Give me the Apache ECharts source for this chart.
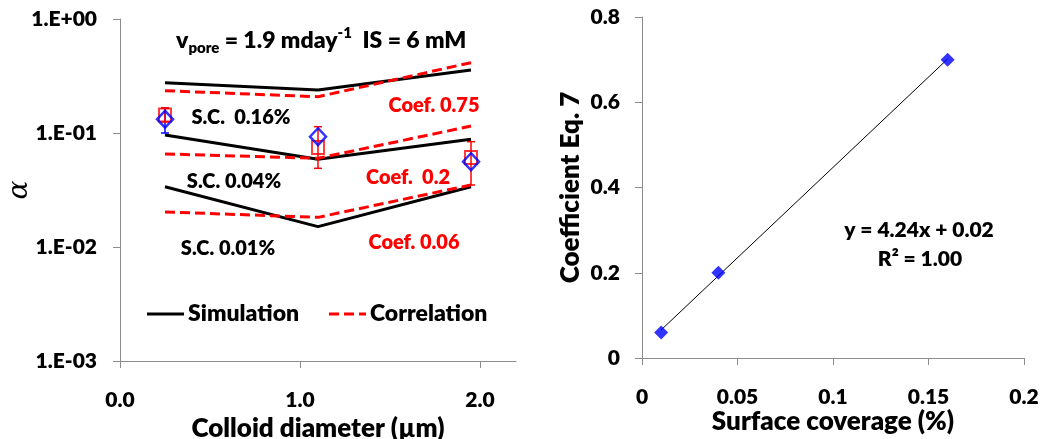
<!DOCTYPE html>
<html>
<head>
<meta charset="utf-8">
<script src="https://cdn.jsdelivr.net/npm/echarts@6/dist/echarts.min.js"></script>
<style>
  html, body { margin: 0; padding: 0; background: #ffffff; }
  #chart { width: 1041px; height: 439px; }
</style>
</head>
<body>
<div id="chart"></div>
<script>
// ---- Left panel: attachment efficiency vs colloid diameter ----
const diameters = [0.25, 1.1, 1.95];

// simulated alpha for three surface coverages
const simSC016 = [0.276, 0.238, 0.357];
const simSC004 = [0.096, 0.0588, 0.088];
const simSC001 = [0.0338, 0.0151, 0.0338];

// correlation (Eq. 7) with three coefficients
const corCoef075 = [0.235, 0.208, 0.414];
const corCoef02 = [0.0655, 0.060, 0.115];
const corCoef006 = [0.0203, 0.0182, 0.035];

// measured alpha, two data sets with error bars
const measuredDiamond = [0.132, 0.0928, 0.056];
const diamondErrLow = [0.100, null, null];
const diamondErrHigh = [0.166, null, null];
const measuredSquare = [0.144, 0.0746, 0.061];
const squareErrLow = [0.125, 0.049, 0.035];
const squareErrHigh = [0.166, 0.1136, 0.0839];

const diameterTicks = [0, 1, 2];

// ---- Right panel: fitted coefficient vs surface coverage ----
const coverage = [0.01, 0.04, 0.16];
const coefficient = [0.06, 0.2, 0.7];

const FONT = 'Lato';
const WEIGHT = 800;
const BLUE = '#0000ff';
const RED = '#ff0000';
const AXIS_GRAY = '#8c8c8c';

const pairs = (xs, ys) => xs.map((x, i) => [x, ys[i]]);
const errRows = (xs, lo, hi) => xs.map((x, i) => [x, lo[i], hi[i]]).filter(r => r[1] != null);

// least-squares trendline through the right-panel points
function linearFit(xs, ys) {
  const n = xs.length;
  const mx = xs.reduce((a, b) => a + b, 0) / n;
  const my = ys.reduce((a, b) => a + b, 0) / n;
  let sxy = 0, sxx = 0, syy = 0;
  for (let i = 0; i < n; i++) {
    sxy += (xs[i] - mx) * (ys[i] - my);
    sxx += (xs[i] - mx) ** 2;
    syy += (ys[i] - my) ** 2;
  }
  const slope = sxy / sxx;
  const intercept = my - slope * mx;
  return { slope, intercept, r2: (sxy * sxy) / (sxx * syy) };
}
const fit = linearFit(coverage, coefficient);
const fitX = [Math.min(...coverage), Math.max(...coverage)];
const fitLine = fitX.map(x => [x, fit.slope * x + fit.intercept]);

function errorBar(color, width) {
  return function (params, api) {
    const x = api.value(0);
    const lo = api.coord([x, api.value(1)]);
    const hi = api.coord([x, api.value(2)]);
    const cap = 4;
    const style = { stroke: color, lineWidth: width };
    return {
      type: 'group',
      children: [
        { type: 'line', shape: { x1: lo[0], y1: lo[1], x2: hi[0], y2: hi[1] }, style },
        { type: 'line', shape: { x1: lo[0] - cap, y1: lo[1], x2: lo[0] + cap, y2: lo[1] }, style },
        { type: 'line', shape: { x1: hi[0] - cap, y1: hi[1], x2: hi[0] + cap, y2: hi[1] }, style }
      ]
    };
  };
}

const SIM_STYLE = { color: '#000000', width: 3, type: 'solid' };
const COR_STYLE = { color: RED, width: 3, type: [10, 5] };

const simLine = (data) => ({
  name: 'Simulation', type: 'line', xAxisIndex: 0, yAxisIndex: 0,
  data: pairs(diameters, data), symbol: 'none', silent: true,
  lineStyle: SIM_STYLE, z: 3
});
const corLine = (data) => ({
  name: 'Correlation', type: 'line', xAxisIndex: 0, yAxisIndex: 0,
  data: pairs(diameters, data), symbol: 'none', silent: true,
  lineStyle: COR_STYLE, z: 4
});

const tickLabel = { color: '#000000', fontFamily: FONT, fontWeight: WEIGHT, fontSize: 21, lineHeight: 24 };
const axisLine = { show: true, lineStyle: { color: AXIS_GRAY, width: 1 } };
const axisTick = { show: true, length: 7, inside: false, lineStyle: { color: AXIS_GRAY } };
const nameStyle = { color: '#000000', fontFamily: FONT, fontWeight: WEIGHT, fontSize: 26, lineHeight: 28 };

function label(text, x, y, color, size) {
  return {
    type: 'text', x, y,
    style: { text, fill: color, font: `${WEIGHT} ${size}px ${FONT}`, align: 'center', verticalAlign: 'middle' }
  };
}

// hand-drawn legend: line sample followed by its caption
function legendItem(x, y, lineStyle, text) {
  return {
    type: 'group', x, y,
    children: [
      {
        type: 'line', shape: { x1: 0, y1: 0, x2: 37, y2: 0 },
        style: { stroke: lineStyle.color, lineWidth: lineStyle.width, lineDash: lineStyle.type === 'solid' ? null : lineStyle.type }
      },
      {
        type: 'text', x: 41, y: 0,
        style: { text, fill: '#000', font: `${WEIGHT} 23px ${FONT}`, align: 'left', verticalAlign: 'middle' }
      }
    ]
  };
}

const chart = echarts.init(document.getElementById('chart'), null, { renderer: 'canvas' });

chart.setOption({
  animation: false,
  backgroundColor: '#ffffff',
  grid: [
    { left: 120, right: 525, top: 19, bottom: 78, containLabel: false, outerBoundsMode: 'none' },
    { left: 642, right: 17, top: 17, bottom: 81, containLabel: false, outerBoundsMode: 'none' }
  ],
  xAxis: [
    {
      gridIndex: 0, type: 'value', min: 0, max: 2.2, interval: 1,
      axisLine, axisTick: Object.assign({ customValues: diameterTicks }, axisTick),
      splitLine: { show: false },
      axisLabel: Object.assign({ margin: 27, customValues: diameterTicks, formatter: v => v.toFixed(1) }, tickLabel),
      name: 'Colloid diameter (\u00b5m)', nameLocation: 'middle', nameGap: 54, nameMoveOverlap: false,
      nameTextStyle: nameStyle
    },
    {
      gridIndex: 1, type: 'value', min: 0, max: 0.2, interval: 0.05,
      axisLine, axisTick, splitLine: { show: false },
      axisLabel: Object.assign({ margin: 27, formatter: v => String(+v.toFixed(2)) }, tickLabel),
      name: 'Surface coverage (%)', nameLocation: 'middle', nameGap: 50, nameMoveOverlap: false,
      nameTextStyle: nameStyle
    }
  ],
  yAxis: [
    {
      gridIndex: 0, type: 'log', logBase: 10, min: 0.001, max: 1,
      axisLine, axisTick, splitLine: { show: false }, minorTick: { show: false },
      axisLabel: Object.assign({
        margin: 23,
        formatter: v => {
          const e = Math.round(Math.log10(v));
          const s = e < 0 ? '-' : '+';
          return '1.E' + s + String(Math.abs(e)).padStart(2, '0');
        }
      }, tickLabel),
      name: '\u03b1', nameLocation: 'middle', nameGap: 86, nameRotate: 90, nameMoveOverlap: false,
      nameTextStyle: { color: '#000000', fontFamily: 'DejaVu Serif', fontStyle: 'italic', fontSize: 28 }
    },
    {
      gridIndex: 1, type: 'value', min: 0, max: 0.8, interval: 0.2,
      axisLine, axisTick, splitLine: { show: false },
      axisLabel: Object.assign({ margin: 22, formatter: v => String(+v.toFixed(1)) }, tickLabel),
      name: 'Coefficient Eq. 7', nameLocation: 'middle', nameGap: 57, nameMoveOverlap: false,
      nameTextStyle: nameStyle
    }
  ],
  series: [
    simLine(simSC016), simLine(simSC004), simLine(simSC001),
    corLine(corCoef075), corLine(corCoef02), corLine(corCoef006),
    {
      type: 'custom', xAxisIndex: 0, yAxisIndex: 0, silent: true, z: 5,
      renderItem: errorBar(BLUE, 1.5),
      encode: { x: 0, y: [1, 2] },
      data: errRows(diameters, diamondErrLow, diamondErrHigh)
    },
    {
      type: 'custom', xAxisIndex: 0, yAxisIndex: 0, silent: true, z: 6,
      renderItem: errorBar(RED, 1.5),
      encode: { x: 0, y: [1, 2] },
      data: errRows(diameters, squareErrLow, squareErrHigh)
    },
    {
      type: 'scatter', xAxisIndex: 0, yAxisIndex: 0, silent: true, z: 7,
      symbol: 'rect', symbolSize: [12, 13],
      itemStyle: { color: 'rgba(0,0,0,0)', borderColor: RED, borderWidth: 2 },
      data: pairs(diameters, measuredSquare)
    },
    {
      type: 'scatter', xAxisIndex: 0, yAxisIndex: 0, silent: true, z: 8,
      symbol: 'diamond', symbolSize: [16, 17],
      itemStyle: { color: 'rgba(0,0,0,0)', borderColor: BLUE, borderWidth: 2.5 },
      data: pairs(diameters, measuredDiamond)
    },
    {
      type: 'line', xAxisIndex: 1, yAxisIndex: 1, silent: true, z: 3,
      data: fitLine, symbol: 'none',
      lineStyle: { color: '#000000', width: 1 }
    },
    {
      type: 'scatter', xAxisIndex: 1, yAxisIndex: 1, silent: true, z: 5,
      symbol: 'diamond', symbolSize: 14,
      itemStyle: { color: BLUE },
      data: pairs(coverage, coefficient)
    }
  ],
  graphic: [
    {
      type: 'text', x: 176, y: 41,
      style: {
        text: '{m|v}{s|pore}{m| = 1.9 mday}{p|-1}{m|  IS = 6 mM}',
        align: 'left', verticalAlign: 'middle',
        rich: {
          m: { fontFamily: FONT, fontWeight: WEIGHT, fontSize: 23, lineHeight: 30, verticalAlign: 'middle', fill: '#000' },
          s: { fontFamily: FONT, fontWeight: WEIGHT, fontSize: 15, lineHeight: 14, verticalAlign: 'bottom', fill: '#000' },
          p: { fontFamily: FONT, fontWeight: WEIGHT, fontSize: 15, lineHeight: 14, verticalAlign: 'top', fill: '#000' }
        }
      }
    },
    legendItem(147, 314, SIM_STYLE, 'Simulation'),
    legendItem(329, 314, COR_STYLE, 'Correlation'),
    label('S.C.  0.16%', 241, 118, '#000000', 20),
    label('S.C. 0.04%', 234, 182, '#000000', 20),
    label('S.C. 0.01%', 228, 249, '#000000', 20),
    label('Coef. 0.75', 434, 106, RED, 20),
    label('Coef.  0.2', 408, 178, RED, 20),
    label('Coef. 0.06', 414, 243, RED, 20),
    label(`y = ${fit.slope.toFixed(2)}x + ${fit.intercept.toFixed(2)}`, 919, 230, '#000000', 21),
    label(`R\u00b2 = ${fit.r2.toFixed(2)}`, 920, 259, '#000000', 21)
  ]
});
</script>
</body>
</html>
